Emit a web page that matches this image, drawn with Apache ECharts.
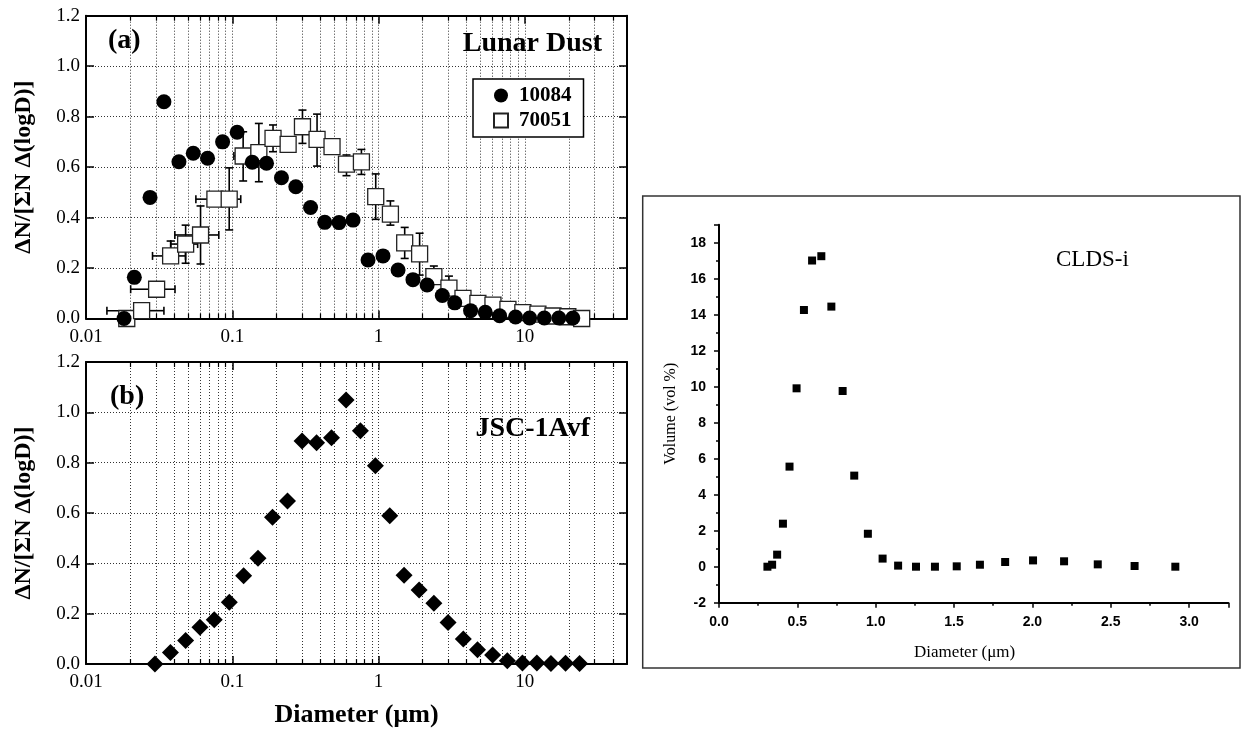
<!DOCTYPE html>
<html><head><meta charset="utf-8">
<script src="https://cdn.jsdelivr.net/npm/echarts@6/dist/echarts.min.js"></script>
<style>html,body{margin:0;padding:0;background:#fff}#c{width:1250px;height:729px}</style>
</head><body><div id="c"></div>
<script>
// ---- Panel (a): Lunar Dust, sample 10084 (filled circles)
const d10084 = [0.0182, 0.0214, 0.0274, 0.0341, 0.0432, 0.0541, 0.0678, 0.0859, 0.108, 0.137, 0.1715, 0.217, 0.272, 0.343, 0.429, 0.537, 0.670, 0.848, 1.073, 1.36, 1.72, 2.15, 2.73, 3.32, 4.26, 5.37, 6.73, 8.65, 10.8, 13.6, 17.1, 21.3];
const v10084 = [0.0, 0.163, 0.48, 0.859, 0.621, 0.655, 0.635, 0.70, 0.738, 0.619, 0.615, 0.558, 0.522, 0.44, 0.381, 0.38, 0.39, 0.232, 0.248, 0.192, 0.154, 0.133, 0.091, 0.062, 0.031, 0.025, 0.011, 0.006, 0.002, 0.002, 0.002, 0.002];
// ---- Panel (a): sample 70051 (open squares with error bars)
const d70051 = [0.019, 0.024, 0.0304, 0.0379, 0.048, 0.0607, 0.0761, 0.0953, 0.1187, 0.152, 0.190, 0.241, 0.302, 0.380, 0.481, 0.604, 0.764, 0.957, 1.206, 1.51, 1.91, 2.39, 3.03, 3.78, 4.78, 6.06, 7.67, 9.70, 12.3, 15.6, 19.7, 24.5];
const v70051 = [0.0, 0.031, 0.116, 0.248, 0.295, 0.331, 0.473, 0.473, 0.644, 0.657, 0.714, 0.690, 0.760, 0.710, 0.681, 0.612, 0.621, 0.483, 0.414, 0.300, 0.256, 0.166, 0.120, 0.080, 0.060, 0.053, 0.036, 0.023, 0.017, 0.010, 0.007, 0.0];
const yLo70051 = [null, null, null, null, 0.219, 0.216, null, 0.351, 0.545, 0.542, 0.661, null, 0.694, 0.604, null, 0.566, 0.571, 0.393, 0.370, 0.238, 0.172, null, null, null, null, null, null, null, null, null, null, null];
const yHi70051 = [null, null, null, 0.307, 0.370, 0.446, null, 0.597, 0.740, 0.773, 0.767, null, 0.826, 0.810, null, 0.648, 0.670, 0.573, 0.466, 0.361, 0.338, 0.208, 0.168, null, null, 0.076, null, null, null, null, null, null];
const xLo70051 = [null, 0.0139, 0.0202, 0.0285, 0.038, 0.0405, 0.0564, 0.0763, 0.1026, null, null, null, null, null, null, null, null, null, null, null, null, null, null, null, null, null, null, null, null, null, null, null];
const xHi70051 = [null, 0.0341, 0.0406, 0.0479, 0.058, 0.0809, 0.0961, 0.1143, 0.135, null, null, null, null, null, null, null, null, null, null, null, null, null, null, null, null, null, null, null, null, null, null, null];
// ---- Panel (b): JSC-1Avf (filled diamonds)
const dJSC = [0.0296, 0.0378, 0.048, 0.0601, 0.0753, 0.0955, 0.1196, 0.150, 0.1885, 0.2386, 0.300, 0.377, 0.477, 0.600, 0.752, 0.952, 1.193, 1.495, 1.895, 2.39, 2.99, 3.80, 4.75, 6.03, 7.60, 9.64, 12.1, 15.1, 19.0, 23.7];
const vJSC = [0.0, 0.046, 0.093, 0.146, 0.176, 0.245, 0.351, 0.42, 0.583, 0.648, 0.886, 0.879, 0.899, 1.049, 0.927, 0.788, 0.589, 0.353, 0.294, 0.241, 0.165, 0.099, 0.057, 0.036, 0.013, 0.004, 0.004, 0.002, 0.003, 0.002];
// ---- Right panel: CLDS-i volume distribution
const dCLDS = [0.309, 0.339, 0.371, 0.408, 0.450, 0.495, 0.542, 0.594, 0.653, 0.717, 0.789, 0.863, 0.950, 1.044, 1.143, 1.257, 1.378, 1.517, 1.665, 1.826, 2.004, 2.202, 2.417, 2.652, 2.912];
const vCLDS = [0.0, 0.11, 0.67, 2.39, 5.56, 9.91, 14.26, 17.01, 17.25, 14.45, 9.76, 5.06, 1.83, 0.45, 0.06, 0.0, 0.0, 0.02, 0.11, 0.26, 0.35, 0.30, 0.13, 0.04, 0.0];
// ---- Tick labels
const logTickValues = [0.01, 0.1, 1, 10];
const logTickLabels = ['0.01', '0.1', '1', '10'];

const serif = 'Liberation Serif';
const sans = 'Liberation Sans';
const dot = {type: [1, 2], color: '#333', width: 1};

function logLabel(v) {
  const i = logTickValues.findIndex(t => Math.abs(t - v) / t < 1e-6);
  return i >= 0 ? logTickLabels[i] : '';
}

function logX(gridIndex, position, labeled, name) {
  return {
    type: 'log', logBase: 10, gridIndex: gridIndex, position: position, min: 0.01, max: 50,
    axisLine: {show: true, onZero: false, lineStyle: {color: '#000', width: 2}},
    axisTick: {show: true, inside: true, length: 8, lineStyle: {color: '#000', width: 1.5}},
    minorTick: {show: true, splitNumber: 9, length: 5, lineStyle: {color: '#000', width: 1.2}},
    axisLabel: {show: labeled, formatter: logLabel, margin: 9, fontFamily: serif, fontSize: 19, color: '#000', showMaxLabel: false},
    splitLine: {show: labeled, lineStyle: dot},
    minorSplitLine: {show: labeled, lineStyle: dot},
    name: name || '', nameLocation: 'middle', nameGap: 38,
    nameTextStyle: {fontFamily: serif, fontWeight: 'bold', fontSize: 26, color: '#000'}
  };
}

function linY(gridIndex, position, labeled, name) {
  return {
    type: 'value', gridIndex: gridIndex, position: position, min: 0, max: 1.2, interval: 0.2,
    axisLine: {show: true, onZero: false, lineStyle: {color: '#000', width: 2}},
    axisTick: {show: true, inside: true, length: 8, lineStyle: {color: '#000', width: 1.5}},
    axisLabel: {show: labeled, formatter: v => v.toFixed(1), margin: 6, fontFamily: serif, fontSize: 19, color: '#000'},
    splitLine: {show: labeled, lineStyle: dot},
    name: name || '', nameLocation: 'middle', nameGap: 50,
    nameTextStyle: {fontFamily: serif, fontWeight: 'bold', fontSize: 24, color: '#000'}
  };
}

function errRender(params, api) {
  const i = params.dataIndex;
  const x = d70051[i], y = v70051[i];
  const c = api.coord([x, y]);
  const kids = [];
  const cap = 4;
  const st = {stroke: '#000', lineWidth: 1.6};
  const seg = (a, b) => kids.push({type: 'line', shape: {x1: a[0], y1: a[1], x2: b[0], y2: b[1]}, style: st});
  if (yHi70051[i] != null) { const p = api.coord([x, yHi70051[i]]); seg(c, p); seg([p[0] - cap, p[1]], [p[0] + cap, p[1]]); }
  if (yLo70051[i] != null) { const p = api.coord([x, yLo70051[i]]); seg(c, p); seg([p[0] - cap, p[1]], [p[0] + cap, p[1]]); }
  if (xLo70051[i] != null) { const p = api.coord([xLo70051[i], y]); seg(c, p); seg([p[0], p[1] - cap], [p[0], p[1] + cap]); }
  if (xHi70051[i] != null) { const p = api.coord([xHi70051[i], y]); seg(c, p); seg([p[0], p[1] - cap], [p[0], p[1] + cap]); }
  return {type: 'group', children: kids};
}

const chart = echarts.init(document.getElementById('c'), null, {renderer: 'canvas', width: 1250, height: 729});

const option = {
  animation: false,
  backgroundColor: '#fff',
  grid: [
    {left: 86, top: 15.7, width: 541, height: 302.8, outerBoundsMode: 'none'},
    {left: 86, top: 362, width: 541, height: 302, outerBoundsMode: 'none'},
    {left: 719, top: 224.7, width: 509.3, height: 378, outerBoundsMode: 'none'}
  ],
  title: [
    {text: '(a)', left: 108, top: 27, padding: 0, textStyle: {fontFamily: serif, fontWeight: 'bold', fontSize: 28, color: '#000'}},
    {text: 'Lunar Dust', right: 648, top: 30, padding: 0, textStyle: {fontFamily: serif, fontWeight: 'bold', fontSize: 28, color: '#000'}},
    {text: '(b)', left: 110, top: 383, padding: 0, textStyle: {fontFamily: serif, fontWeight: 'bold', fontSize: 28, color: '#000'}},
    {text: 'JSC-1Avf', right: 660, top: 415, padding: 0, textStyle: {fontFamily: serif, fontWeight: 'bold', fontSize: 28, color: '#000'}},
    {text: 'CLDS-i', left: 1056, top: 248, padding: 0, textStyle: {fontFamily: serif, fontWeight: 'normal', fontSize: 23, color: '#000'}}
  ],
  legend: {
    orient: 'vertical', left: 473, top: 79, padding: [6, 12, 6, 20], itemGap: 4,
    itemWidth: 14, itemHeight: 14, borderColor: '#000', borderWidth: 1.5, borderRadius: 0, backgroundColor: '#fff',
    selectedMode: false,
    data: [{name: '10084', icon: 'circle'}, {name: '70051', icon: 'rect'}],
    textStyle: {fontFamily: serif, fontWeight: 'bold', fontSize: 21, color: '#000', padding: [0, 0, 0, 6]}
  },
  graphic: [
    {type: 'rect', silent: true, z: 0, shape: {x: 642.7, y: 196, width: 597.3, height: 472}, style: {fill: 'none', stroke: '#333', lineWidth: 1.5}}
  ],
  xAxis: [
    logX(0, 'bottom', true),
    logX(0, 'top', false),
    logX(1, 'bottom', true, 'Diameter (\u03bcm)'),
    logX(1, 'top', false),
    {
      type: 'value', gridIndex: 2, position: 'bottom', min: 0, max: 3.25, interval: 0.5,
      axisLine: {show: true, onZero: false, lineStyle: {color: '#000', width: 2}},
      axisTick: {show: true, length: 5, lineStyle: {color: '#000', width: 1.5}},
      minorTick: {show: true, splitNumber: 2, length: 3, lineStyle: {color: '#000', width: 1.5}},
      axisLabel: {formatter: v => v.toFixed(1), margin: 12, fontFamily: sans, fontWeight: 'bold', fontSize: 14, color: '#000', showMaxLabel: false},
      splitLine: {show: false},
      name: 'Diameter (\u03bcm)', nameLocation: 'middle', nameGap: 41,
      nameTextStyle: {fontFamily: serif, fontSize: 17, color: '#000', padding: [0, 18, 0, 0]}
    }
  ],
  yAxis: [
    linY(0, 'left', true, '\u0394N/[\u03a3N \u0394(logD)]'),
    linY(0, 'right', false),
    linY(1, 'left', true, '\u0394N/[\u03a3N \u0394(logD)]'),
    linY(1, 'right', false),
    {
      type: 'value', gridIndex: 2, position: 'left', min: -2, max: 19, interval: 2,
      axisLine: {show: true, onZero: false, lineStyle: {color: '#000', width: 2}},
      axisTick: {show: true, length: 5, lineStyle: {color: '#000', width: 1.5}},
      minorTick: {show: true, splitNumber: 2, length: 3, lineStyle: {color: '#000', width: 1.5}},
      axisLabel: {margin: 13, fontFamily: sans, fontWeight: 'bold', fontSize: 14, color: '#000', showMaxLabel: false},
      splitLine: {show: false},
      name: 'Volume (vol %)', nameLocation: 'middle', nameGap: 40,
      nameTextStyle: {fontFamily: serif, fontSize: 16, color: '#000'}
    }
  ],
  series: [
    {
      type: 'custom', name: 'err70051', xAxisIndex: 0, yAxisIndex: 0, z: 2, silent: true,
      data: d70051.map((d, i) => [d, v70051[i]]), encode: {x: 0, y: 1},
      renderItem: errRender
    },
    {
      type: 'scatter', name: '70051', xAxisIndex: 0, yAxisIndex: 0, z: 3, symbol: 'rect', symbolSize: 16,
      itemStyle: {color: '#fff', borderColor: '#222', borderWidth: 1.3, opacity: 1},
      data: d70051.map((d, i) => [d, v70051[i]])
    },
    {
      type: 'scatter', name: '10084', xAxisIndex: 0, yAxisIndex: 0, z: 4, symbol: 'circle', symbolSize: 15,
      itemStyle: {color: '#000', opacity: 1},
      data: d10084.map((d, i) => [d, v10084[i]])
    },
    {
      type: 'scatter', name: 'JSC-1Avf', xAxisIndex: 2, yAxisIndex: 2, z: 3, symbol: 'diamond', symbolSize: 17,
      itemStyle: {color: '#000', opacity: 1},
      data: dJSC.map((d, i) => [d, vJSC[i]])
    },
    {
      type: 'scatter', name: 'CLDS-i', xAxisIndex: 4, yAxisIndex: 4, z: 3, symbol: 'rect', symbolSize: 8,
      itemStyle: {color: '#000', opacity: 1},
      data: dCLDS.map((d, i) => [d, vCLDS[i]])
    }
  ]
};
chart.setOption(option);
</script>
</body></html>
